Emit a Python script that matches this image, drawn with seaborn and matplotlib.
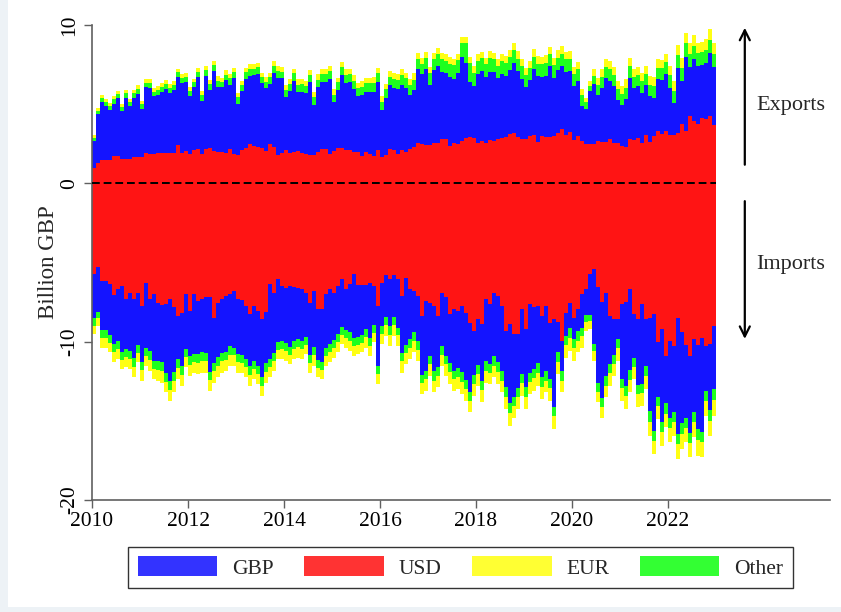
import numpy as np
import pandas as pd
import matplotlib
matplotlib.use("Agg")
import matplotlib.pyplot as plt
from matplotlib.patches import Patch, Rectangle
import seaborn as sns

# ===============================
# Data (billion GBP, monthly 2010-2022)
# ===============================
months = pd.date_range("2010-01-01", periods=156, freq="MS")

# exports: top of the whole stack and top of the USD block
exp_total = [
    3.03, 4.78, 5.55, 5.34, 5.05, 5.51, 5.83, 4.99, 5.89, 5.30, 5.89, 6.19,
    5.20, 6.56, 6.56, 6.04, 6.14, 6.31, 6.52, 6.25, 6.46, 7.24, 6.88, 6.99,
    6.10, 6.61, 7.30, 5.83, 7.41, 6.52, 7.72, 6.77, 6.67, 7.15, 6.88, 7.30,
    5.72, 6.46, 7.30, 7.51, 7.51, 7.62, 6.99, 6.73, 6.99, 7.72, 7.41, 7.36,
    6.19, 6.56, 7.24, 6.56, 6.56, 6.46, 7.15, 5.77, 6.88, 7.20, 7.20, 7.41,
    5.93, 6.67, 7.66, 7.20, 7.24, 6.82, 6.35, 6.46, 6.67, 6.67, 6.73, 7.30,
    5.51, 6.25, 7.09, 6.99, 6.88, 7.20, 6.99, 6.56, 6.94, 8.25, 7.93, 8.31,
    7.34, 8.25, 8.56, 8.25, 8.14, 7.97, 7.87, 8.20, 9.26, 9.26, 7.99, 7.41,
    8.14, 8.29, 7.93, 8.35, 8.25, 7.87, 8.14, 8.04, 8.42, 8.84, 8.35, 7.83,
    7.30, 7.72, 8.46, 8.04, 7.99, 8.08, 8.63, 7.93, 8.42, 8.67, 8.29, 8.35,
    7.36, 7.66, 5.98, 5.41, 6.46, 7.20, 6.67, 7.20, 7.87, 7.72, 7.36, 6.46,
    6.14, 6.56, 7.93, 7.20, 7.36, 6.99, 7.41, 6.77, 6.73, 7.83, 7.78, 8.20,
    7.41, 6.46, 8.71, 7.93, 9.47, 8.84, 9.34, 8.88, 8.92, 9.09, 9.76, 8.84,
]
exp_usd = [
    0.99, 1.31, 1.48, 1.48, 1.48, 1.73, 1.73, 1.56, 1.56, 1.56, 1.66, 1.69,
    1.69, 1.94, 1.83, 1.83, 1.90, 1.94, 1.94, 1.90, 1.90, 2.40, 1.94, 2.04,
    1.83, 2.11, 2.19, 1.83, 2.15, 2.25, 2.04, 1.98, 1.98, 1.94, 2.15, 1.83,
    1.77, 2.09, 2.25, 2.46, 2.36, 2.30, 2.25, 2.04, 2.46, 2.32, 1.77, 1.94,
    2.11, 1.94, 1.98, 2.04, 1.94, 1.83, 1.77, 1.77, 1.98, 2.19, 2.15, 1.83,
    2.04, 2.25, 2.21, 2.11, 2.09, 1.98, 1.98, 1.73, 1.98, 1.83, 1.73, 2.09,
    1.69, 1.77, 2.19, 2.09, 1.87, 2.09, 2.00, 2.19, 2.30, 2.57, 2.46, 2.40,
    2.40, 2.53, 2.53, 2.82, 2.78, 2.36, 2.53, 2.46, 2.67, 2.88, 2.95, 2.88,
    2.57, 2.67, 2.57, 2.74, 2.67, 2.78, 2.88, 2.95, 3.09, 3.20, 2.95, 2.78,
    2.78, 2.99, 3.03, 2.61, 2.99, 2.95, 2.95, 2.99, 3.20, 3.41, 3.03, 3.24,
    2.74, 2.99, 2.67, 2.51, 2.46, 2.46, 2.67, 2.61, 2.61, 2.82, 2.53, 2.53,
    2.36, 2.30, 2.78, 2.74, 2.88, 2.57, 3.03, 2.61, 2.99, 3.30, 3.09, 3.30,
    3.03, 3.03, 3.20, 3.73, 3.30, 4.25, 3.94, 3.73, 4.15, 4.04, 4.25, 3.66,
]
exp_other = [
    0.20, 0.25, 0.25, 0.28, 0.25, 0.27, 0.25, 0.25, 0.28, 0.25, 0.27, 0.30,
    0.30, 0.28, 0.30, 0.30, 0.32, 0.30, 0.30, 0.32, 0.30, 0.33, 0.32, 0.35,
    0.35, 0.33, 0.35, 0.35, 0.38, 0.35, 0.35, 0.38, 0.35, 0.37, 0.40, 0.38,
    0.40, 0.38, 0.40, 0.42, 0.40, 0.42, 0.40, 0.42, 0.45, 0.42, 0.45, 0.42,
    0.45, 0.42, 0.45, 0.45, 0.48, 0.45, 0.45, 0.48, 0.45, 0.50, 0.48, 0.50,
    0.50, 0.48, 0.50, 0.52, 0.50, 0.52, 0.50, 0.52, 0.55, 0.52, 0.55, 0.52,
    0.55, 0.52, 0.55, 0.58, 0.55, 0.58, 0.60, 0.62, 0.65, 0.62, 0.65, 0.70,
    0.75, 0.72, 0.78, 0.80, 0.75, 0.82, 0.85, 0.80, 0.88, 1.25, 1.20, 0.85,
    0.80, 0.78, 0.82, 0.85, 0.80, 0.78, 0.82, 0.80, 0.85, 0.82, 0.78, 0.80,
    0.75, 0.80, 0.78, 0.75, 0.80, 0.82, 0.78, 0.80, 0.75, 0.78, 0.80, 0.75,
    0.72, 0.75, 0.70, 0.40, 0.35, 0.55, 0.65, 0.70, 0.72, 0.75, 0.70, 0.68,
    0.70, 0.72, 0.75, 0.70, 0.72, 0.75, 0.70, 0.72, 0.75, 0.70, 0.72, 0.75,
    0.78, 0.80, 0.82, 0.80, 0.85, 0.82, 0.80, 0.85, 0.82, 0.80, 0.85, 0.85,
]
exp_eur = [
    0.15, 0.18, 0.18, 0.20, 0.18, 0.20, 0.18, 0.20, 0.20, 0.18, 0.20, 0.22,
    0.22, 0.20, 0.22, 0.25, 0.22, 0.22, 0.25, 0.22, 0.25, 0.22, 0.25, 0.25,
    0.25, 0.22, 0.25, 0.25, 0.28, 0.25, 0.25, 0.28, 0.25, 0.28, 0.25, 0.28,
    0.28, 0.25, 0.28, 0.30, 0.28, 0.30, 0.28, 0.30, 0.28, 0.30, 0.32, 0.30,
    0.30, 0.28, 0.30, 0.32, 0.30, 0.32, 0.30, 0.32, 0.35, 0.32, 0.30, 0.32,
    0.32, 0.30, 0.32, 0.35, 0.32, 0.35, 0.32, 0.35, 0.32, 0.35, 0.38, 0.35,
    0.35, 0.32, 0.35, 0.38, 0.35, 0.38, 0.35, 0.38, 0.40, 0.38, 0.40, 0.38,
    0.40, 0.38, 0.40, 0.42, 0.40, 0.42, 0.40, 0.42, 0.40, 0.42, 0.40, 0.42,
    0.42, 0.40, 0.42, 0.45, 0.42, 0.45, 0.42, 0.45, 0.42, 0.45, 0.48, 0.45,
    0.45, 0.42, 0.45, 0.48, 0.45, 0.48, 0.45, 0.48, 0.50, 0.48, 0.45, 0.48,
    0.48, 0.45, 0.40, 0.30, 0.30, 0.40, 0.45, 0.48, 0.50, 0.48, 0.50, 0.52,
    0.50, 0.52, 0.55, 0.50, 0.52, 0.55, 0.52, 0.55, 0.58, 0.55, 0.52, 0.55,
    0.58, 0.60, 0.62, 0.65, 0.62, 0.65, 0.68, 0.65, 0.62, 0.68, 0.70, 0.65,
]

# imports: bottom of the whole stack and bottom of the USD block
imp_total = [
    -9.53, -9.00, -10.37, -10.37, -10.68, -11.31, -11.10, -11.74, -11.63, -11.74, -12.26, -11.31,
    -12.47, -11.52, -11.84, -12.37, -12.47, -12.58, -13.21, -13.73, -13.21, -12.37, -12.79, -11.63,
    -12.16, -11.95, -12.05, -11.95, -11.95, -13.10, -12.58, -12.26, -11.95, -11.84, -11.52, -11.52,
    -11.95, -11.95, -12.26, -12.79, -12.37, -12.68, -13.42, -12.58, -12.26, -11.84, -11.10, -11.10,
    -11.21, -11.42, -11.10, -11.00, -11.10, -10.79, -11.95, -11.52, -12.26, -12.37, -11.52, -11.31,
    -11.00, -10.68, -10.16, -10.37, -10.58, -10.89, -10.79, -10.68, -10.37, -10.89, -10.05, -12.68,
    -10.16, -9.63, -10.26, -9.63, -10.26, -11.95, -11.42, -11.10, -10.68, -11.21, -13.31, -13.10,
    -12.16, -13.21, -12.89, -11.52, -12.16, -12.68, -13.10, -13.00, -13.31, -13.73, -14.47, -13.42,
    -12.79, -13.84, -12.58, -12.68, -12.26, -12.68, -13.21, -14.26, -15.31, -14.85, -14.26, -13.42,
    -14.26, -13.31, -13.10, -12.79, -13.63, -13.21, -13.73, -15.52, -12.05, -13.21, -11.00, -10.58,
    -11.21, -10.68, -10.37, -9.32, -9.21, -11.21, -13.84, -14.85, -13.52, -12.79, -12.16, -11.21,
    -13.73, -14.26, -13.21, -12.37, -14.15, -14.05, -13.00, -15.94, -17.10, -14.89, -16.57, -15.42,
    -16.36, -15.94, -17.41, -16.78, -16.36, -17.31, -16.05, -17.20, -17.31, -14.68, -15.94, -14.68,
]
imp_usd = [
    -5.74, -5.26, -6.16, -6.16, -6.37, -7.07, -6.69, -6.48, -7.32, -6.90, -7.32, -6.94,
    -7.74, -6.31, -7.32, -7.00, -7.53, -7.70, -7.63, -7.32, -7.84, -8.37, -8.16, -7.00,
    -8.05, -7.00, -7.42, -7.28, -7.21, -7.21, -8.48, -7.57, -7.28, -7.11, -7.00, -6.79,
    -7.28, -7.36, -7.74, -8.27, -7.74, -8.05, -8.58, -8.12, -6.37, -6.90, -6.06, -6.48,
    -6.58, -6.48, -6.52, -6.58, -6.69, -6.90, -7.53, -6.79, -7.95, -7.95, -7.00, -6.69,
    -6.90, -6.48, -6.06, -6.69, -6.37, -5.74, -6.44, -6.44, -6.44, -6.27, -6.48, -7.74,
    -6.31, -5.80, -6.06, -5.80, -6.06, -7.11, -6.01, -6.69, -6.79, -7.11, -8.37, -7.42,
    -7.53, -7.74, -8.37, -6.90, -7.21, -8.27, -7.95, -8.05, -7.74, -8.16, -8.79, -9.32,
    -8.58, -8.90, -7.32, -7.63, -6.90, -7.11, -7.74, -9.32, -8.90, -9.53, -9.53, -7.91,
    -9.17, -7.63, -7.84, -7.74, -8.37, -7.74, -8.79, -8.54, -8.75, -9.95, -8.16, -7.53,
    -8.48, -7.95, -7.00, -6.69, -5.74, -5.43, -6.52, -7.49, -6.90, -8.37, -8.54, -8.54,
    -7.63, -7.49, -6.69, -8.27, -8.58, -7.63, -8.58, -8.48, -8.27, -10.05, -9.21, -10.89,
    -9.95, -10.26, -8.48, -9.42, -10.22, -10.89, -9.80, -10.22, -9.74, -10.26, -10.16, -9.00,
]
# thickness of the thin blocks (positive numbers, drawn below zero)
imp_other = [
    0.45, 0.40, 0.48, 0.50, 0.48, 0.52, 0.50, 0.48, 0.52, 0.50, 0.55, 0.50,
    0.52, 0.50, 0.55, 0.52, 0.55, 0.58, 0.55, 0.52, 0.55, 0.58, 0.55, 0.52,
    0.55, 0.52, 0.55, 0.58, 0.55, 0.52, 0.55, 0.58, 0.55, 0.52, 0.55, 0.50,
    0.52, 0.50, 0.52, 0.55, 0.52, 0.50, 0.52, 0.55, 0.52, 0.50, 0.48, 0.50,
    0.50, 0.48, 0.50, 0.52, 0.50, 0.48, 0.50, 0.52, 0.50, 0.48, 0.50, 0.52,
    0.50, 0.52, 0.48, 0.50, 0.52, 0.50, 0.48, 0.50, 0.52, 0.50, 0.48, 0.50,
    0.50, 0.52, 0.55, 0.52, 0.50, 0.55, 0.52, 0.55, 0.58, 0.55, 0.52, 0.55,
    0.55, 0.58, 0.55, 0.52, 0.55, 0.58, 0.55, 0.58, 0.60, 0.58, 0.55, 0.58,
    0.58, 0.60, 0.58, 0.55, 0.58, 0.60, 0.58, 0.60, 0.62, 0.60, 0.58, 0.60,
    0.60, 0.58, 0.60, 0.62, 0.60, 0.58, 0.60, 0.62, 0.60, 0.58, 0.60, 0.62,
    0.60, 0.58, 0.55, 0.45, 0.42, 0.48, 0.52, 0.55, 0.58, 0.60, 0.58, 0.60,
    0.60, 0.62, 0.60, 0.58, 0.62, 0.60, 0.62, 0.65, 0.62, 0.60, 0.62, 0.65,
    0.65, 0.62, 0.65, 0.68, 0.65, 0.62, 0.65, 0.68, 0.65, 0.62, 0.65, 0.68,
]
imp_eur = [
    0.55, 0.50, 0.60, 0.62, 0.60, 0.65, 0.62, 0.60, 0.65, 0.62, 0.68, 0.62,
    0.65, 0.62, 0.68, 0.65, 0.70, 0.72, 0.68, 0.70, 0.72, 0.68, 0.70, 0.65,
    0.68, 0.65, 0.70, 0.72, 0.70, 0.68, 0.70, 0.72, 0.70, 0.68, 0.70, 0.65,
    0.65, 0.62, 0.65, 0.68, 0.65, 0.62, 0.65, 0.68, 0.65, 0.62, 0.60, 0.62,
    0.62, 0.60, 0.62, 0.65, 0.62, 0.60, 0.62, 0.65, 0.62, 0.60, 0.62, 0.65,
    0.62, 0.65, 0.60, 0.62, 0.65, 0.62, 0.60, 0.62, 0.65, 0.62, 0.60, 0.62,
    0.65, 0.68, 0.70, 0.68, 0.65, 0.70, 0.68, 0.70, 0.72, 0.70, 0.68, 0.72,
    0.72, 0.75, 0.72, 0.70, 0.72, 0.75, 0.72, 0.75, 0.78, 0.75, 0.72, 0.75,
    0.75, 0.78, 0.75, 0.72, 0.75, 0.78, 0.75, 0.78, 0.80, 0.78, 0.75, 0.78,
    0.78, 0.75, 0.78, 0.80, 0.78, 0.75, 0.78, 0.80, 0.78, 0.75, 0.78, 0.80,
    0.78, 0.75, 0.70, 0.55, 0.50, 0.60, 0.68, 0.72, 0.75, 0.78, 0.75, 0.78,
    0.80, 0.82, 0.80, 0.78, 0.82, 0.80, 0.85, 0.88, 0.85, 0.82, 0.85, 0.88,
    0.90, 0.88, 0.92, 0.95, 0.92, 0.90, 0.95, 0.98, 0.95, 0.92, 0.95, 0.98,
]

currencies = ["GBP", "USD", "EUR", "Other"]
bar_colors = {"GBP": "#1414ff", "USD": "#ff1414", "EUR": "#ffff14", "Other": "#1eff1e"}
legend_colors = {"GBP": "#3333ff", "USD": "#ff3333", "EUR": "#ffff33", "Other": "#33ff33"}

# ===============================
# Build the stacked tops (USD at the bottom, then GBP, Other, EUR)
# ===============================
x = months.year + (months.month - 0.5) / 12
et = np.array(exp_total)
it = np.array(imp_total)
exp_layers = {
    "EUR": et,
    "Other": et - np.array(exp_eur),
    "GBP": et - np.array(exp_eur) - np.array(exp_other),
    "USD": np.array(exp_usd),
}
imp_layers = {
    "EUR": it,
    "Other": it + np.array(imp_eur),
    "GBP": it + np.array(imp_eur) + np.array(imp_other),
    "USD": np.array(imp_usd),
}

# ===============================
# Plot
# ===============================
sns.set_theme(style="ticks")
plt.rcParams["font.family"] = ["Liberation Serif", "DejaVu Serif"]

fig = plt.figure(figsize=(8.41, 6.12), dpi=100)
fig.patch.set_facecolor("#edf2f6")
fig.patches.append(Rectangle((8 / 841, 5 / 612), 1, 1, transform=fig.transFigure,
                             facecolor="white", edgecolor="none", zorder=-5))
ax = fig.add_axes([92 / 841, 1 - 500 / 612, 738 / 841, 475 / 612])
ax.set_facecolor("none")

for name in ["EUR", "Other", "GBP", "USD"]:
    for layer in (exp_layers, imp_layers):
        d = pd.DataFrame({"x": x, "y": layer[name]})
        sns.barplot(data=d, x="x", y="y", native_scale=True, color=bar_colors[name],
                    saturation=1, width=0.9, linewidth=0, errorbar=None, ax=ax)

ax.plot([2010, 2023], [0, 0], color="black", lw=1.4, ls=(0, (4, 2)), zorder=5)

ax.set_xlim(2010, 2025.375)
ax.set_ylim(-20, 10)
ax.set_xticks(range(2010, 2023, 2))
ax.set_xticklabels([str(y) for y in range(2010, 2023, 2)], fontsize=15.5)
ax.set_yticks([-20, -10, 0, 10])
ax.set_yticklabels(["-20", "-10", "0", "10"], rotation=90, va="center", fontsize=15.5)
ax.set_xlabel("")
ax.set_ylabel("Billion GBP", fontsize=16.5, labelpad=1)

sns.despine(ax=ax)
for s in ["left", "bottom"]:
    ax.spines[s].set_color("#606060")
    ax.spines[s].set_linewidth(1.2)
ax.tick_params(axis="both", length=6, width=1, color="#606060", labelcolor="black", pad=3)

# export / import arrows
ax.annotate("", xy=(2023.6, 10), xytext=(2023.6, 1.0),
            arrowprops=dict(arrowstyle="->", lw=1.6, color="black", mutation_scale=18))
ax.annotate("", xy=(2023.6, -10), xytext=(2023.6, -0.95),
            arrowprops=dict(arrowstyle="->", lw=1.6, color="black", mutation_scale=18))
ax.text(2024.55, 4.9, "Exports", ha="center", va="center", fontsize=16)
ax.text(2024.55, -5.1, "Imports", ha="center", va="center", fontsize=16)

handles = [Patch(facecolor=legend_colors[c], edgecolor="none", label=c) for c in currencies]
leg = fig.legend(handles=handles, loc="center", bbox_to_anchor=(0.5476, 0.0727), ncol=4,
                 fontsize=15.5, frameon=True, fancybox=False, handlelength=3.7,
                 handleheight=1.05, handletextpad=0.7, columnspacing=1.4,
                 borderpad=0.45)
leg.get_frame().set_edgecolor("black")
leg.get_frame().set_linewidth(1.0)

fig.savefig("out.png", dpi=100, facecolor=fig.get_facecolor())
